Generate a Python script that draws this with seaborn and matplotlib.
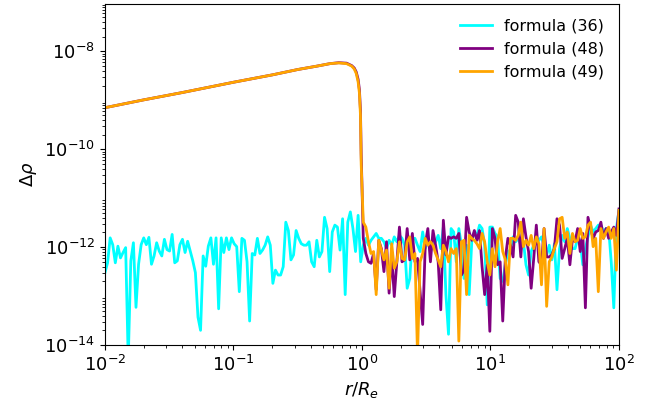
import numpy as np
import pandas as pd
import matplotlib
matplotlib.use("Agg")
import matplotlib.pyplot as plt
import seaborn as sns

# log10 of delta rho, 50 points per decade of r
cyan_d1 = [-12.52, -12.32, -11.81, -11.95, -12.32, -11.98, -12.22, -12.11, -12.01, -14.3,
           -12.28, -11.91, -13.23, -12.35, -11.95, -11.81, -11.95, -11.80, -12.35, -12.18,
           -11.91, -12.08, -12.18, -11.84, -12.05, -12.08, -11.74, -12.32, -12.28, -11.95,
           -11.84, -12.11, -11.88, -12.08, -12.28, -12.52, -13.43, -13.70, -12.18, -12.39,
           -11.98, -11.81, -12.35, -11.81, -13.26, -11.81, -12.11, -11.81, -12.05, -11.81]
cyan_d2 = [-11.93, -11.99, -12.91, -11.82, -11.86, -12.30, -13.51, -12.13, -12.16, -11.82,
           -12.13, -12.06, -11.96, -11.79, -11.96, -12.74, -12.47, -12.57, -12.57, -12.40,
           -11.49, -11.66, -12.26, -12.16, -11.66, -11.82, -11.93, -11.96, -11.96, -11.89,
           -12.30, -12.40, -11.86, -12.20, -12.09, -11.39, -11.62, -12.50, -11.69, -11.55,
           -11.59, -12.06, -11.42, -12.97, -11.49, -11.28, -11.62, -12.09, -11.35, -12.30]
cyan_d3 = [-11.96, -11.82, -11.96, -11.86, -11.79, -11.72, -11.82, -11.82, -11.89, -12.03,
           -11.86, -11.96, -11.79, -11.89, -11.76, -11.82, -11.96, -12.84, -12.64, -11.82,
           -11.82, -11.96, -12.09, -11.69, -12.03, -11.82, -12.09, -11.96, -11.89, -11.76,
           -12.03, -11.59, -12.97, -13.78, -11.62, -11.69, -12.30, -11.62, -11.96, -12.64,
           -11.96, -12.97, -11.89, -11.69, -11.76, -11.55, -11.62, -11.96, -13.18, -11.59]
cyan_d4 = [-11.59, -11.72, -11.79, -12.64, -12.70, -12.36, -12.09, -12.06, -11.79, -11.89,
           -11.82, -11.96, -11.89, -12.36, -12.57, -12.09, -11.96, -11.93, -11.86, -11.79,
           -11.96, -12.16, -11.96, -12.26, -11.93, -12.87, -12.03, -11.76, -11.89, -11.62,
           -11.82, -12.03, -12.03, -11.82, -11.89, -12.36, -12.03, -11.79, -11.55, -11.69,
           -11.62, -11.55, -11.55, -11.69, -11.62, -11.62, -12.30, -13.24, -11.62, -11.25]

# smooth part of formulas (48) and (49), r < 1
r_smooth = [0.01, 0.02, 0.04, 0.1, 0.2, 0.316, 0.447, 0.562, 0.66, 0.759,
            0.832, 0.871, 0.902, 0.933, 0.955, 0.973, 0.986]
purple_smooth = [-9.15, -8.99, -8.84, -8.63, -8.48, -8.37, -8.30, -8.25, -8.23, -8.24,
                 -8.29, -8.34, -8.42, -8.57, -8.78, -9.20, -10.10]
orange_smooth = [-9.15, -8.99, -8.84, -8.63, -8.48, -8.37, -8.30, -8.25, -8.235, -8.25,
                 -8.30, -8.36, -8.45, -8.62, -8.85, -9.30, -10.30]

purple_d3 = [-11.82, -12.13, -12.30, -12.33, -12.13, -12.87, -11.86, -12.03, -12.50, -11.89,
             -12.94, -12.16, -13.01, -12.30, -11.59, -12.30, -12.26, -11.62, -12.26, -11.72,
             -12.30, -12.23, -12.91, -13.58, -11.96, -11.62, -12.30, -11.66, -11.96, -12.30,
             -13.28, -11.45, -12.16, -11.79, -11.82, -11.79, -11.82, -11.72, -12.57, -12.47,
             -11.39, -11.69, -11.86, -11.66, -11.86, -11.66, -12.40, -12.97, -12.36, -13.72]
purple_d4 = [-11.62, -11.82, -12.36, -12.30, -13.51, -12.23, -11.82, -11.96, -12.20, -11.35,
             -11.49, -12.20, -11.42, -11.79, -12.09, -12.84, -12.23, -11.55, -12.30, -12.36,
             -11.62, -12.20, -12.20, -12.16, -12.03, -11.42, -11.55, -12.23, -12.03, -11.82,
             -12.36, -11.82, -11.89, -11.62, -12.09, -11.72, -13.24, -11.39, -11.62, -11.82,
             -11.69, -11.66, -11.49, -11.82, -11.62, -11.82, -11.69, -11.59, -11.76, -11.22]
orange_d3 = [-11.49, -11.59, -11.89, -12.13, -12.09, -12.97, -11.86, -12.06, -12.26, -12.06,
             -12.84, -11.93, -12.43, -12.30, -11.89, -12.23, -12.26, -11.89, -11.79, -12.23,
             -12.13, -14.20, -12.30, -12.13, -11.82, -11.96, -11.89, -11.96, -12.13, -12.26,
             -12.40, -11.96, -12.09, -12.30, -12.03, -12.13, -12.03, -13.92, -11.89, -11.86,
             -12.97, -11.76, -11.82, -11.86, -11.93, -12.03, -11.72, -11.89, -12.30, -12.57]
orange_d4 = [-12.03, -12.40, -11.89, -11.62, -12.09, -12.26, -12.77, -11.82, -11.82, -11.86,
             -11.76, -11.49, -11.99, -11.86, -11.96, -11.76, -12.03, -11.79, -11.93, -12.77,
             -11.62, -13.21, -12.30, -12.20, -12.03, -11.89, -11.42, -11.39, -11.82, -11.69,
             -12.13, -11.72, -11.89, -11.86, -11.62, -11.82, -11.79, -11.55, -11.49, -11.99,
             -11.82, -12.91, -11.62, -11.82, -11.69, -11.59, -11.82, -11.62, -12.47, -11.25]

r = np.geomspace(1e-2, 1e2, 200)
r_noise = r[100:]

cyan = 10.0 ** np.array(cyan_d1 + cyan_d2 + cyan_d3 + cyan_d4)
purple = 10.0 ** np.array(purple_smooth + purple_d3 + purple_d4)
orange = 10.0 ** np.array(orange_smooth + orange_d3 + orange_d4)
r_pur = np.concatenate([r_smooth, r_noise])

fig = plt.figure(figsize=(6.62, 4.03), dpi=100)
ax = fig.add_axes([0.1586, 0.1439, 0.7764, 0.8461])

sns.lineplot(x=r, y=cyan, ax=ax, color="cyan", lw=2, label="formula (36)",
             sort=False, estimator=None)
sns.lineplot(x=r_pur, y=purple, ax=ax, color="purple", lw=2, label="formula (48)",
             sort=False, estimator=None)
sns.lineplot(x=r_pur, y=orange, ax=ax, color="orange", lw=2, label="formula (49)",
             sort=False, estimator=None)

ax.set_xscale("log")
ax.set_yscale("log")
ax.set_xlim(1e-2, 1e2)
ax.set_ylim(1e-14, 9.3e-8)
ax.set_yticks([1e-14, 1e-12, 1e-10, 1e-8])
ax.tick_params(axis="both", which="major", labelsize=13)
ax.set_xlabel("$r/R_e$", fontsize=13)
ax.set_ylabel(r"$\Delta\rho$", fontsize=13)
ax.legend(loc="upper right", frameon=False, fontsize=11.5)

fig.savefig("out.png", dpi=100)
